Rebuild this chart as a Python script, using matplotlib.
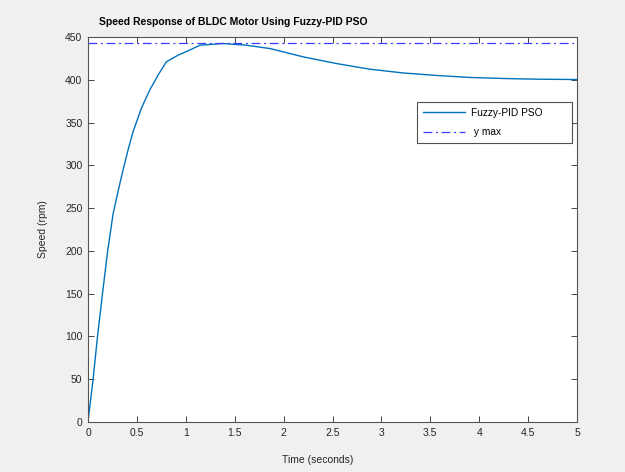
import matplotlib
matplotlib.use('Agg')
import matplotlib.pyplot as plt
import numpy as np

# Daten
zeit = [0, 0.051, 0.097, 0.147, 0.20, 0.256, 0.31, 0.358, 0.409, 0.46, 0.545, 0.631,
        0.716, 0.801, 0.92, 1.022, 1.145, 1.38, 1.62, 1.86, 2.20, 2.54, 2.88, 3.22,
        3.57, 3.91, 4.25, 4.59, 5.0]
drehzahl = [0, 49, 99.7, 149, 199, 243, 271, 294.4, 317.8, 339, 366.5, 387.9,
            405.4, 421, 428.7, 433.8, 440.4, 442.4, 440.4, 436.5, 426.8, 419, 412.4, 408,
            405, 402.7, 401.5, 400.7, 400.3]
y_max = 442.8
x_ticks = [0, 0.5, 1, 1.5, 2, 2.5, 3, 3.5, 4, 4.5, 5]
y_ticks = [0, 50, 100, 150, 200, 250, 300, 350, 400, 450]

plt.rcParams['font.family'] = ['Liberation Sans', 'DejaVu Sans']
txt = '#262626'

fig = plt.figure(figsize=(6.25, 4.72), dpi=100, facecolor='#f0f0f0')
ax = fig.add_axes([0.1408, 0.1059, 0.7824, 0.8157])
ax.set_facecolor('white')

ax.plot(zeit, drehzahl, color='#0072BD', lw=1.0, label='Fuzzy-PID PSO')
ax.axhline(y_max, color='#3a3aff', lw=0.9, ls=(0, (7, 3, 1.5, 3)), label=' y max')

ax.set_xlim(0, 5)
ax.set_ylim(0, 450)
ax.set_xticks(x_ticks)
ax.set_xticklabels(['0', '0.5', '1', '1.5', '2', '2.5', '3', '3.5', '4', '4.5', '5'])
ax.set_yticks(y_ticks)
ax.tick_params(direction='in', length=4, width=0.6, colors=txt, labelsize=7.5,
               top=True, right=True, pad=4)
for s in ax.spines.values():
    s.set_color('#555555')
    s.set_linewidth(0.8)

ax.set_xlabel('Time (seconds)', fontsize=7.5, color=txt)
ax.xaxis.set_label_coords(0.47, -0.085)
ax.set_ylabel('Speed (rpm)', fontsize=7.5, color=txt)
ax.yaxis.set_label_coords(-0.082, 0.5)

fig.text(0.373, 0.953, 'Speed Response of BLDC Motor Using Fuzzy-PID PSO',
         fontsize=7.5, fontweight='bold', color='black', ha='center', va='center')

leg = ax.legend(loc='lower left', bbox_to_anchor=(0.673, 0.725, 0.317, 0.104),
                mode='expand', fontsize=7.3, frameon=True, fancybox=False,
                handlelength=4.2, borderpad=0.55, labelspacing=0.95,
                handletextpad=0.6, borderaxespad=0)
leg.get_frame().set_edgecolor('#262626')
leg.get_frame().set_linewidth(0.8)

plt.savefig('out.png', dpi=100, facecolor=fig.get_facecolor())
